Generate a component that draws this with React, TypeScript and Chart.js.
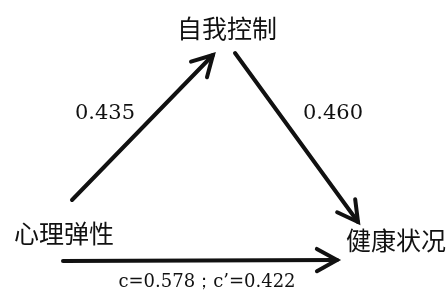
import React, { useEffect, useRef } from "react";
import { Chart, registerables } from "chart.js";

Chart.register(...registerables);

// Diagram nodes (variables) and their layout positions
const nodeLabels = ["心理弹性", "自我控制", "健康状况"];
const nodeX = [64, 227, 396];
const nodeY = [233, 28, 240];

// Paths: start/end positions and coefficient labels
const pathNames = ["a", "b", "c"];
const pathStartX = [72, 235, 63];
const pathStartY = [200, 53, 261];
const pathEndX = [213, 358, 337];
const pathEndY = [55, 222, 260];
const pathLabels = ["0.435", "0.460", "c=0.578；c’=0.422"];
const pathLabelX = [105, 333, 207];
const pathLabelY = [114, 114, 282];

const W = 448;
const H = 291;

function arrowHead(i: number) {
  const sx = pathStartX[i], sy = pathStartY[i], ex = pathEndX[i], ey = pathEndY[i];
  const ang = Math.atan2(ey - sy, ex - sx);
  const len = 23;
  const spread = (29 * Math.PI) / 180;
  return [
    { x: ex - len * Math.cos(ang - spread), y: ey - len * Math.sin(ang - spread) },
    { x: ex, y: ey },
    { x: ex - len * Math.cos(ang + spread), y: ey - len * Math.sin(ang + spread) },
  ];
}

const textPlugin = {
  id: "diagramText",
  afterDatasetsDraw(chart: any) {
    const ctx = chart.ctx;
    const xs = chart.scales.x;
    const ys = chart.scales.y;
    ctx.save();
    ctx.fillStyle = "#111";
    ctx.textAlign = "center";
    ctx.textBaseline = "middle";
    ctx.font = '25px "Noto Sans CJK SC", sans-serif';
    nodeLabels.forEach((t, i) => {
      ctx.fillText(t, xs.getPixelForValue(nodeX[i]), ys.getPixelForValue(nodeY[i]));
    });
    pathLabels.forEach((t, i) => {
      ctx.font = i === 2 ? '18px "DejaVu Serif", serif' : '21px "DejaVu Serif", serif';
      ctx.fillText(t, xs.getPixelForValue(pathLabelX[i]), ys.getPixelForValue(pathLabelY[i]));
    });
    ctx.restore();
  },
};

export default function App() {
  const ref = useRef<HTMLCanvasElement>(null);
  useEffect(() => {
    if (!ref.current) return;
    const datasets: any[] = [];
    pathNames.forEach((n, i) => {
      datasets.push({
        label: n,
        data: [
          { x: pathStartX[i], y: pathStartY[i] },
          { x: pathEndX[i], y: pathEndY[i] },
        ],
        showLine: true,
        borderColor: "#111",
        borderWidth: 4,
        borderCapStyle: "round",
        pointRadius: 0,
      });
      datasets.push({
        label: n + "-head",
        data: arrowHead(i),
        showLine: true,
        borderColor: "#111",
        borderWidth: 4,
        borderCapStyle: "round",
        borderJoinStyle: "miter",
        pointRadius: 0,
      });
    });
    const chart = new Chart(ref.current, {
      type: "scatter",
      data: { datasets },
      options: {
        animation: false,
        responsive: false,
        layout: { padding: 0 },
        plugins: { legend: { display: false }, tooltip: { enabled: false } },
        scales: {
          x: { type: "linear", min: 0, max: W, display: false },
          y: { type: "linear", min: 0, max: H, reverse: true, display: false },
        },
      },
      plugins: [textPlugin],
    });
    return () => chart.destroy();
  }, []);
  return (
    <div style={{ position: "fixed", left: 0, top: 0, width: W, height: H, background: "#fff" }}>
      <canvas ref={ref} width={W} height={H} style={{ width: W, height: H }} />
    </div>
  );
}
